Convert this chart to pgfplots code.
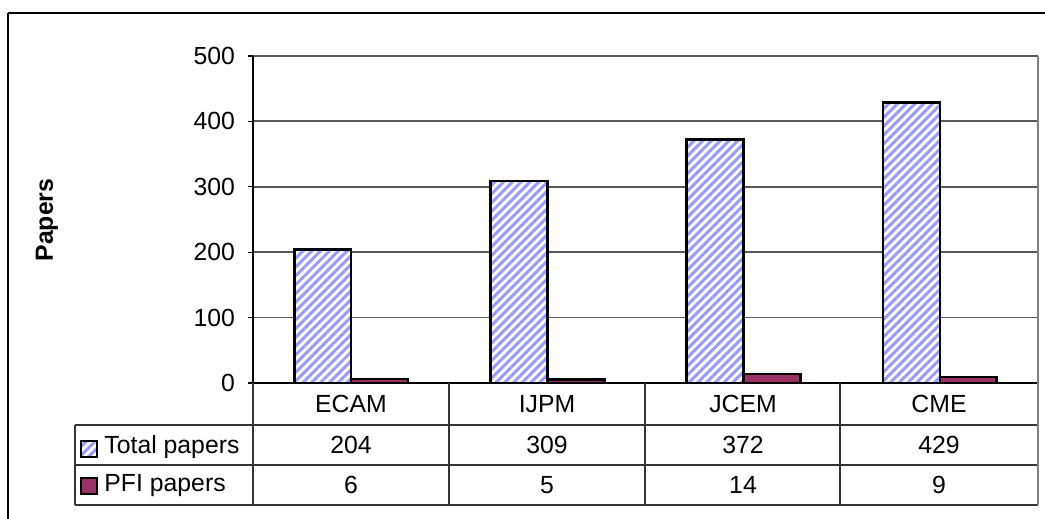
\documentclass[border=0pt]{standalone}
\usepackage{pgfplots}
\pgfplotsset{compat=1.18}
\usepackage{fontspec}
\setmainfont{Liberation Sans}
\usetikzlibrary{patterns.meta}
\definecolor{stripe}{HTML}{9999FF}
\definecolor{pfi}{HTML}{993366}
\begin{document}
\begin{tikzpicture}[font=\fontsize{12.4}{14}\selectfont]
\useasboundingbox (0,0) rectangle (522.5pt,259.5pt);
\begin{axis}[at={(126.5pt,68pt)}, anchor=south west, scale only axis,
 width=392.5pt, height=163.5pt,
 xmin=-0.5, xmax=3.5, ymin=0, ymax=500, ytick={0,100,...,500}, xtick=\empty,
 axis x line*=bottom, axis y line*=left, axis line style={black, line width=0.9pt},
 ymajorgrids, grid style={black!65, line width=0.9pt},
 tick align=outside, major tick length=2.5pt, tick style={black, line width=0.6pt},
 yticklabel style={font=\fontsize{12.4}{14}\selectfont, xshift=-3pt},
 /pgf/number format/assume math mode=true,
 clip=false]
\addplot[ybar, bar width=0.29, bar shift=-0.145, draw=black, line width=1.3pt,
  preaction={fill=white},
  pattern={Lines[angle=45,distance=3.1pt,line width=1.5pt]}, pattern color=stripe]
  coordinates {(0,204) (1,309) (2,372) (3,429)};
\addplot[ybar, bar width=0.29, bar shift=0.145, draw=black, line width=1.3pt, fill=pfi]
  coordinates {(0,6) (1,5) (2,14) (3,9)};
\end{axis}
\begin{scope}[x=0.5pt,y=-0.5pt,shift={(0,-519)}]
\draw[black, line width=0.8pt] (8,13) -- (1060,13);
\draw[black, line width=0.8pt] (8,13) -- (8,530);
\draw[gray, line width=1pt] (1038,56) -- (1038,383);
\begin{scope}[black!80, line width=0.7pt]
\draw (75,425) -- (1038,425);
\draw (75,465) -- (1038,465);
\draw (75,505) -- (1038,505);
\draw (75,425) -- (75,505);
\draw (253,383) -- (253,505);
\draw (449,383) -- (449,505);
\draw (645,383) -- (645,505);
\draw (840,383) -- (840,505);
\end{scope}
\draw[gray, line width=1pt] (1038,383) -- (1038,505);
\node[rotate=90, font=\fontsize{12.4}{14}\selectfont\bfseries] at (47,220) {Papers};
\foreach \x/\c/\t/\p in {351/ECAM/204/6, 547/IJPM/309/5, 743/JCEM/372/14, 939/CME/429/9} {
  \node at (\x,404) {\c};
  \node at (\x,445) {\t};
  \node at (\x,485) {\p};
}
\draw[black, line width=0.8pt, preaction={fill=white}, pattern={Lines[angle=45,distance=3.1pt,line width=1.5pt]}, pattern color=stripe] (81,441) rectangle (97,457);
\draw[black, line width=0.8pt, fill=pfi] (81,478) rectangle (97,494);
\node[anchor=west, inner sep=0pt] at (104,447) {Total papers};
\node[anchor=west, inner sep=0pt] at (104,486) {PFI papers};
\end{scope}
\end{tikzpicture}
\end{document}
